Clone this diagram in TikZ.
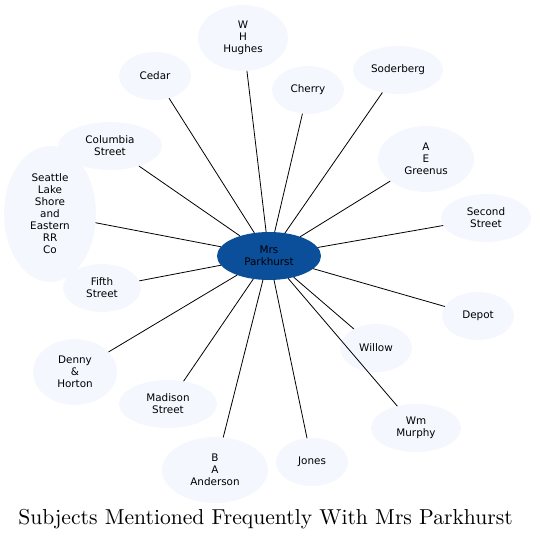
\documentclass[tikz,border=0pt]{standalone}
\usepackage{fontspec}
\newfontfamily\temafont{DejaVu Sans}
\newfontfamily\titulofont{lmroman10-regular}[Extension=.otf]
\usetikzlibrary{shapes.geometric}
\definecolor{azulmp}{RGB}{11,79,155}
\definecolor{fondotema}{RGB}{244,248,254}

\begin{document}
\begin{tikzpicture}[x=1pt, y=-1pt, line cap=round,
    tema/.style={ellipse, fill=fondotema, inner sep=0pt, align=center,
      font=\temafont\fontsize{10.4}{12}\selectfont},
    centro/.style={tema, fill=azulmp},
    enlace/.style={black, line width=0.8pt}]
    \useasboundingbox (0,0) rectangle (536,541);
    % --- persona central
    \node[centro, minimum width=104, minimum height=48] (mp) at (269,256)
         {Mrs\\Parkhurst};
    % --- temas alrededor
    \node[tema, minimum width=90, minimum height=66] (hughes) at (243,38)
         {W\\H\\Hughes};
    \node[tema, minimum width=72, minimum height=48] (cedar) at (155,76) {Cedar};
    \node[tema, minimum width=72, minimum height=48] (cherry) at (308,90) {Cherry};
    \node[tema, minimum width=90, minimum height=48] (soderberg) at (398,70)
         {Soderberg};
    \node[tema, minimum width=104, minimum height=48] (columbia) at (110,146)
         {Columbia\\Street};
    \node[tema, minimum width=96, minimum height=66] (greenus) at (426,159)
         {A\\E\\Greenus};
    \node[tema, minimum width=90, minimum height=48] (second) at (486,218)
         {Second\\Street};
    \node[tema, minimum width=92, minimum height=136] (seattle) at (50,214)
         {Seattle\\Lake\\Shore\\and\\Eastern\\RR\\Co};
    \node[tema, minimum width=78, minimum height=48] (fifth) at (102,288)
         {Fifth\\Street};
    \node[tema, minimum width=72, minimum height=48] (depot) at (478,316) {Depot};
    \node[tema, minimum width=72, minimum height=48] (willow) at (376,348) {Willow};
    \node[tema, minimum width=84, minimum height=66] (denny) at (75,372)
         {Denny\\\&\\Horton};
    \node[tema, minimum width=98, minimum height=48] (madison) at (168,404)
         {Madison\\Street};
    \node[tema, minimum width=90, minimum height=48] (murphy) at (416,428)
         {Wm\\Murphy};
    \node[tema, minimum width=106, minimum height=66] (anderson) at (215,470)
         {B\\A\\Anderson};
    \node[tema, minimum width=72, minimum height=48] (jones) at (312,462) {Jones};
    % --- enlaces desde el centro
    \foreach \t in {hughes, cedar, cherry, soderberg, columbia, greenus, second,
        seattle, fifth, depot, willow, denny, madison, murphy, anderson, jones}
      \draw[enlace] (mp) -- (\t);
    % --- titulo
    \node[font=\titulofont\fontsize{21.6}{25}\selectfont, anchor=base] (titulo)
         at (265.5,524) {Subjects Mentioned Frequently With Mrs Parkhurst};
\end{tikzpicture}
\end{document}
